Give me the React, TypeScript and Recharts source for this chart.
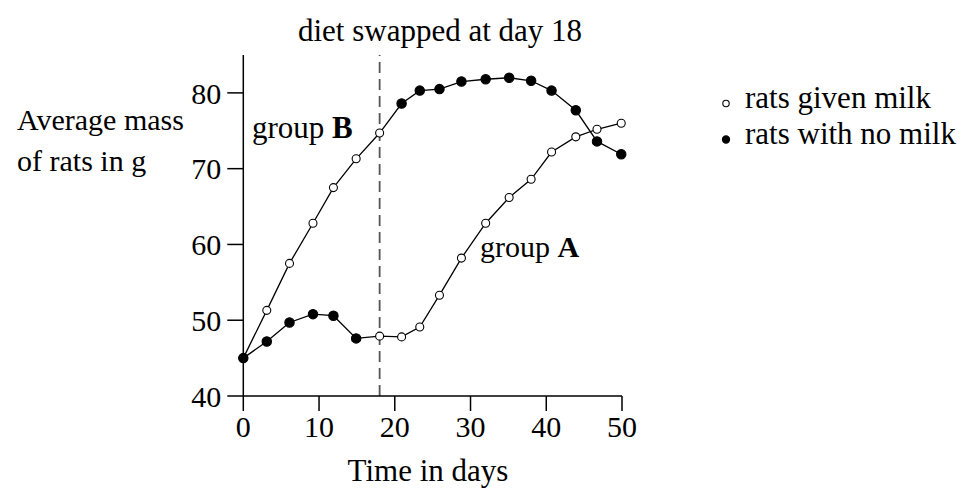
import React from 'react'
import { LineChart, Line, XAxis, YAxis, ReferenceLine, Customized } from 'recharts'

// days at which the rats were weighed
const days = [0, 3.1, 6.1, 9.2, 11.9, 14.9, 18, 20.9, 23.3, 25.9, 28.8, 32.0, 35.1, 38.0, 40.7, 43.9, 46.7, 49.9]

// average mass (g)
const groupA = [45, 47.2, 49.7, 50.8, 50.6, 47.6, 47.9, 47.8, 49.1, 53.3, 58.2, 62.8, 66.2, 68.6, 72.2, 74.2, 75.2, 76.0]
const groupB = [45, 51.3, 57.5, 62.8, 67.5, 71.3, 74.7, 78.6, 80.3, 80.5, 81.5, 81.8, 82.0, 81.6, 80.3, 77.7, 73.6, 71.9]

// diet at each weighing
const dietA = ['none', 'none', 'none', 'none', 'none', 'none', 'milk', 'milk', 'milk', 'milk', 'milk', 'milk', 'milk', 'milk', 'milk', 'milk', 'milk', 'milk']
const dietB = ['milk', 'milk', 'milk', 'milk', 'milk', 'milk', 'milk', 'none', 'none', 'none', 'none', 'none', 'none', 'none', 'none', 'none', 'none', 'none']

const xTicks = [0, 10, 20, 30, 40, 50]
const yTicks = [40, 50, 60, 70, 80]
const swapDay = 18

const legendItems = [
  { diet: 'milk', label: 'rats given milk' },
  { diet: 'none', label: 'rats with no milk' },
]

const rows = days.map((day, i) => ({
  day,
  groupA: groupA[i],
  groupB: groupB[i],
  dietA: dietA[i],
  dietB: dietB[i],
}))

const FONT = '"Liberation Serif", "Times New Roman", serif'

const makeDot = (dietKey: 'dietA' | 'dietB') => (props: any) => {
  const { cx, cy, payload, index } = props
  const milk = payload[dietKey] === 'milk'
  return (
    <circle
      key={`${dietKey}-${index}`}
      cx={cx}
      cy={cy}
      r={milk ? 4 : 4.7}
      fill={milk ? '#fff' : '#000'}
      stroke="#000"
      strokeWidth={1.1}
    />
  )
}

const Annotations = () => (
  <g fontFamily={FONT} fill="#000">
    <text x={440} y={41} fontSize={31} textAnchor="middle">diet swapped at day 18</text>
    <text x={17} y={130} fontSize={30}>Average mass</text>
    <text x={17} y={171} fontSize={30}>of rats in g</text>
    <text x={428} y={481} fontSize={31} textAnchor="middle">Time in days</text>
    <text x={252} y={138} fontSize={31}>group <tspan fontWeight="bold">B</tspan></text>
    <text x={480} y={257} fontSize={30}>group <tspan fontWeight="bold">A</tspan></text>
    {legendItems.map((item, i) => (
      <g key={item.label}>
        <circle
          cx={726}
          cy={103.5 + i * 36}
          r={item.diet === 'milk' ? 3.2 : 3.6}
          fill={item.diet === 'milk' ? '#fff' : '#000'}
          stroke="#000"
          strokeWidth={1.1}
        />
        <text x={745} y={108 + i * 36} fontSize={31}>{item.label}</text>
      </g>
    ))}
  </g>
)

export default function App() {
  return (
    <div style={{ position: 'absolute', left: 0, top: 0, width: 973, height: 494, background: '#fff' }}>
      <LineChart
        width={973}
        height={494}
        data={rows}
        margin={{ top: 55, right: 351, bottom: 38, left: 183.3 }}
      >
        <XAxis
          type="number"
          dataKey="day"
          domain={[0, 50]}
          ticks={xTicks}
          height={60}
          tickSize={15}
          tickMargin={5}
          axisLine={{ stroke: '#000', strokeWidth: 1.5 }}
          tickLine={{ stroke: '#000', strokeWidth: 1.5 }}
          tick={{ fill: '#000', fontSize: 30, fontFamily: FONT }}
        />
        <YAxis
          type="number"
          domain={[40, 85]}
          ticks={yTicks}
          width={60}
          tickSize={16}
          tickMargin={6}
          axisLine={{ stroke: '#000', strokeWidth: 1.5 }}
          tickLine={{ stroke: '#000', strokeWidth: 1.5 }}
          tick={{ fill: '#000', fontSize: 30, fontFamily: FONT }}
        />
        <ReferenceLine x={swapDay} stroke="#555" strokeWidth={1.8} strokeDasharray="11 6" />
        <Line
          dataKey="groupB"
          stroke="#000"
          strokeWidth={1.3}
          dot={makeDot('dietB')}
          activeDot={false}
          isAnimationActive={false}
        />
        <Line
          dataKey="groupA"
          stroke="#000"
          strokeWidth={1.3}
          dot={makeDot('dietA')}
          activeDot={false}
          isAnimationActive={false}
        />
        <Customized component={Annotations} />
      </LineChart>
    </div>
  )
}
